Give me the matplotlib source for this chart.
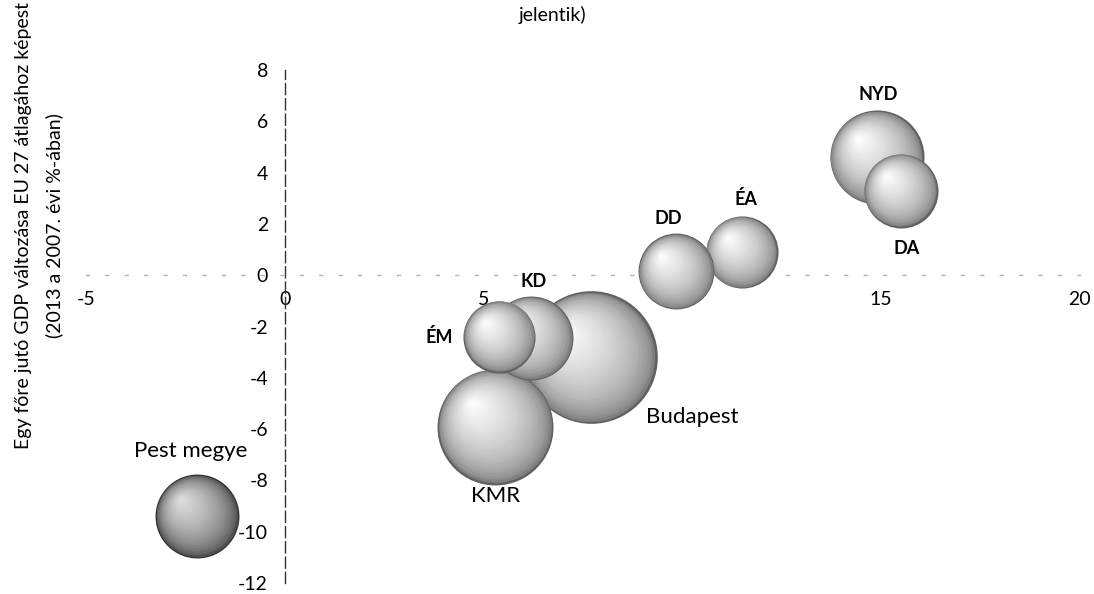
"""Bubble chart: regional GDP per capita change vs EU27 average (grayscale sphere bubbles)."""
import numpy as np
import matplotlib
matplotlib.use("Agg")
import matplotlib.pyplot as plt
from matplotlib import transforms

plt.rcParams["font.family"] = ["Lato", "DejaVu Sans"]

# data
regions = ["Pest megye", "Budapest", "KMR", "KD", "ÉM", "ÉA", "DD", "NYD", "DA"]
x_vals = [-2.2, 7.7, 5.3, 6.2, 5.4, 11.5, 9.85, 14.9, 15.5]
y_vals = [-9.4, -3.2, -5.9, -2.45, -2.4, 0.9, 0.15, 4.6, 3.3]
bubble_vals = [1760, 4400, 3360, 1760, 1300, 1300, 1440, 2210, 1370]

x_ticks = [-5, 0, 5, 10, 15, 20]
y_ticks = [8, 6, 4, 2, 0, -2, -4, -6, -8, -10, -12]

# label offsets (points) from bubble centre, font size, weight
LABEL_STYLE = {
    "Pest megye": ((-5, 47), 16, "normal"),
    "Budapest":   ((73, -43), 16, "normal"),
    "KMR":        ((0, -50), 16, "normal"),
    "KD":         ((2, 41), 13, "bold"),
    "ÉM":         ((-43, 0), 13, "bold"),
    "ÉA":         ((3, 38), 13, "bold"),
    "DD":         ((-6, 38), 13, "bold"),
    "NYD":        ((1, 45), 13, "bold"),
    "DA":         ((4, -42), 13, "bold"),
}

fig = plt.figure(figsize=(10.94, 5.94), dpi=100)
ax = fig.add_axes([0.0786, 0.0185, 0.9084, 0.8635])
ax.set_xlim(-5, 20)
ax.set_ylim(-12, 8)


def sphere(ax, x, y, val, edge, top):
    """Fake a shaded sphere with shrinking circles shifted up-left."""
    s_full = val * 0.72 ** 2 * 4          # (diameter in pt)^2
    r_pt = np.sqrt(s_full) / 2
    n = 36
    for i in range(n):
        t = i / n
        g = edge + (top - edge) * t ** 0.45
        off = transforms.offset_copy(ax.transData, fig=fig,
                                     x=-0.42 * r_pt * t, y=0.42 * r_pt * t,
                                     units="points")
        ax.scatter([x], [y], s=s_full * (1 - t) ** 2, color=str(min(g, 1.0)),
                   linewidths=0, transform=off, zorder=3)


for name, x, y, v in zip(regions, x_vals, y_vals, bubble_vals):
    if name == "Pest megye":
        sphere(ax, x, y, v, 0.18, 0.88)
    else:
        sphere(ax, x, y, v, 0.38, 1.0)
    (dx, dy), fs, fw = LABEL_STYLE[name]
    ax.annotate(name, (x, y), xytext=(dx, dy), textcoords="offset points",
                ha="center", va="center", fontsize=fs, fontweight=fw,
                color="black", zorder=5)

for side in ["top", "right"]:
    ax.spines[side].set_visible(False)
ax.spines["left"].set_position(("data", 0))
ax.spines["bottom"].set_position(("data", 0))
ax.spines["left"].set_color("#333333")
ax.spines["left"].set_linestyle((0, (8, 3)))
ax.spines["left"].set_linewidth(1.0)
ax.spines["bottom"].set_color("#b0b0b0")
ax.spines["bottom"].set_linestyle((0, (2, 12)))
ax.spines["bottom"].set_linewidth(1.0)

ax.set_xticks(x_ticks)
ax.set_xticklabels([str(t) for t in x_ticks])
ax.set_yticks(y_ticks)
ax.set_yticklabels([str(t) for t in y_ticks])
ax.tick_params(axis="both", length=0, labelsize=14)
ax.tick_params(axis="x", pad=11)
ax.tick_params(axis="y", pad=12)

fig.text(0.036, 0.62,
         "Egy főre jutó GDP változása EU 27 átlagához képest\n(2013 a 2007. évi %-ában)",
         rotation=90, ha="center", va="center", fontsize=14, linespacing=1.9)
fig.text(0.505, 0.975, "jelentik)", ha="center", va="center", fontsize=14)

fig.savefig("out.png", dpi=100)
